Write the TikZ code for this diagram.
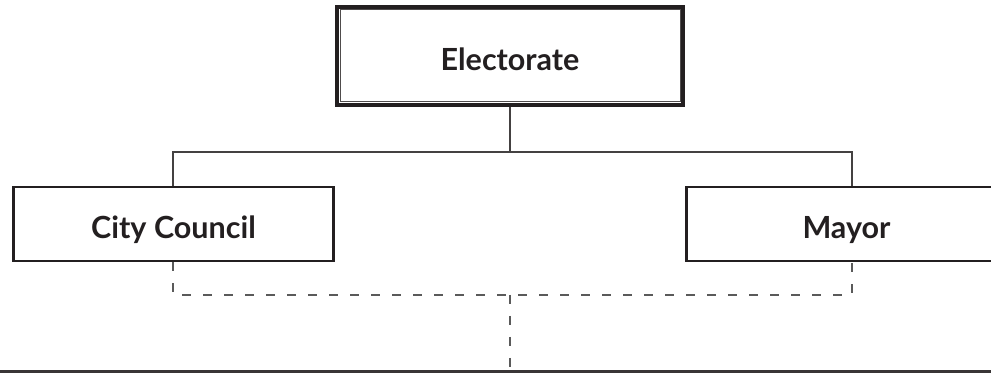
\documentclass[tikz,border=0pt]{standalone}
\usepackage{fontspec}
\setmainfont{Lato}
\definecolor{ink}{HTML}{231F20}
\definecolor{dashgrey}{HTML}{5A5A5A}
\begin{document}
\begin{tikzpicture}[x=1pt,y=1pt,
  every node/.style={font=\fontsize{30.5}{33}\selectfont\bfseries, text=ink},
  mainbox/.style={draw=ink, line width=4pt, minimum width=346pt, minimum height=98pt, text height=22pt, text depth=0pt, inner sep=0pt},
  subbox/.style={draw=ink, line width=2.5pt, minimum width=320pt, minimum height=74pt, text height=22pt, text depth=0pt, inner sep=0pt},
  link/.style={draw=ink!85, line width=1.1pt},
  dashlink/.style={draw=dashgrey, line width=1.4pt, dash pattern=on 9pt off 12pt},
  baseline/.style={draw=ink!90, line width=3pt}]
\useasboundingbox (0,0) rectangle (991,377);
\begin{scope}
\clip (0,0) rectangle (991,377);
\node[mainbox] (E) at (510,321) {\raisebox{-4pt}{Electorate}};
\draw[ink!80, line width=1pt] ([shift={(5,5)}]E.south west) rectangle ([shift={(-5,-5)}]E.north east);
\node[subbox] (CC) at (173.5,153) {\raisebox{-4pt}{City Council}};
\node[subbox] (M) at (846.5,153) {\raisebox{-4pt}{Mayor}};
\end{scope}
\coordinate (hub) at (510,225);
\coordinate (dhub) at (510,82);
\coordinate (bl) at (0,5);
\coordinate (br) at (991,5);
\coordinate (bm) at (510,5);
\draw[link] (E.south) -- (hub);
\draw[link] ([xshift=-0.5pt]CC.north) |- (hub) -| ([xshift=5.5pt]M.north);
\draw[dashlink] ([xshift=-0.5pt]CC.south) |- (dhub) -| ([xshift=5.5pt]M.south);
\draw[dashlink] (dhub) -- (bm);
\draw[baseline] (bl) -- (br);
\end{tikzpicture}
\end{document}
